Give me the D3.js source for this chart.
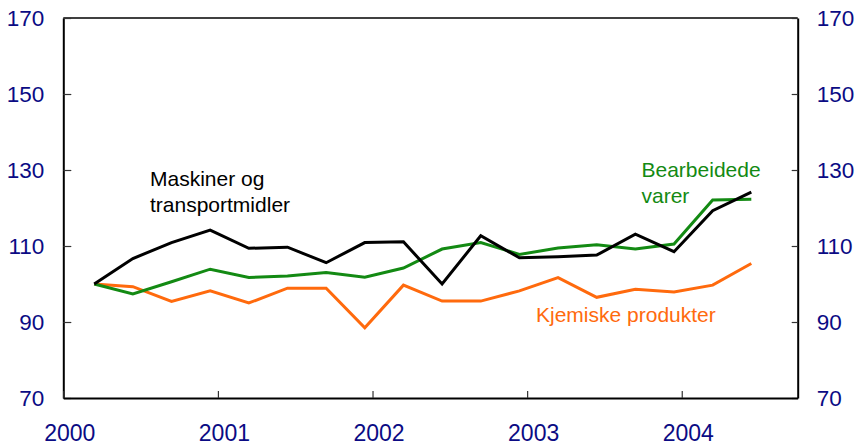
<!DOCTYPE html>
<html>
<head>
<meta charset="utf-8">
<script src="https://cdn.jsdelivr.net/npm/d3@7"></script>
<style>
  body { margin: 0; background: #fff; }
  svg { font-family: Arial, "Liberation Sans", sans-serif; }
</style>
</head>
<body>
<svg id="chart" width="860" height="445"></svg>
<script>
// quarterly index, first point = 100
var quarters = [2000.2, 2000.45, 2000.7, 2000.95, 2001.2, 2001.45, 2001.7, 2001.95,
                2002.2, 2002.45, 2002.7, 2002.95, 2003.2, 2003.45, 2003.7, 2003.95,
                2004.2, 2004.45];
var maskiner = [100, 106.7, 110.9, 114.2, 109.4, 109.7, 105.6, 110.9, 111.1, 100.0,
                112.7, 106.9, 107.2, 107.6, 113.1, 108.5, 119.3, 124.2];
var bearbeidede = [100, 97.4, 100.6, 103.9, 101.7, 102.1, 103.0, 101.8, 104.2, 109.2,
                   110.9, 107.8, 109.5, 110.3, 109.2, 110.5, 122.1, 122.3];
var kjemiske = [100, 99.3, 95.4, 98.2, 95.0, 98.9, 98.9, 88.5, 99.7, 95.5,
                95.5, 98.2, 101.7, 96.5, 98.6, 97.9, 99.7, 105.4];
var yearTicks = [2000, 2001, 2002, 2003, 2004];
var valueTicks = [70, 90, 110, 130, 150, 170];

var navy = "#0b0b84";
var svg = d3.select("#chart");

var x = d3.scaleLinear().domain([2000, 2004.75]).range([63.3, 797.7]);
var y = d3.scaleLinear().domain([70, 170]).range([398, 18]);

function styleAxis(g, size) {
  g.select(".domain").attr("stroke", "#000").attr("stroke-width", 2);
  g.selectAll(".tick line").attr("stroke", "#333").attr("stroke-width", 1.2);
  g.selectAll(".tick text").attr("fill", navy).style("font-size", size + "px");
}

// top frame line
svg.append("line")
  .attr("x1", x.range()[0]).attr("x2", x.range()[1])
  .attr("y1", y(170)).attr("y2", y(170))
  .attr("stroke", "#000").attr("stroke-width", 1.5);

svg.append("g")
  .attr("transform", "translate(" + x.range()[0] + ",0)")
  .call(d3.axisLeft(y).tickValues(valueTicks).tickSizeInner(-8).tickSizeOuter(0).tickPadding(19))
  .call(styleAxis, 22.5);

svg.append("g")
  .attr("transform", "translate(" + x.range()[1] + ",0)")
  .call(d3.axisRight(y).tickValues(valueTicks).tickSizeInner(-6).tickSizeOuter(0).tickPadding(19))
  .call(styleAxis, 22.5);

var xAxis = svg.append("g")
  .attr("transform", "translate(0," + y(70) + ")")
  .call(d3.axisBottom(x).tickValues(yearTicks).tickFormat(d3.format("d"))
        .tickSizeInner(-7).tickSizeOuter(0).tickPadding(26.5))
  .call(styleAxis, 23);
xAxis.selectAll(".tick text").attr("dx", 6);

var line = d3.line()
  .x(function(d, i) { return x(quarters[i]); })
  .y(function(d) { return y(d); });

var series = [
  { name: "kjemiske", values: kjemiske, color: "#ff6a0d" },
  { name: "bearbeidede", values: bearbeidede, color: "#138a13" },
  { name: "maskiner", values: maskiner, color: "#000" }
];

svg.selectAll("path.series")
  .data(series)
  .enter()
  .append("path")
  .attr("class", "series")
  .attr("d", function(d) { return line(d.values); })
  .attr("fill", "none")
  .attr("stroke", function(d) { return d.color; })
  .attr("stroke-width", 3)
  .attr("stroke-linejoin", "miter");

// series labels
var labels = [
  { lines: ["Maskiner og", "transportmidler"], x: 150, y: 186, color: "#000" },
  { lines: ["Bearbeidede", "varer"], x: 641.5, y: 177, color: "#138a13" },
  { lines: ["Kjemiske produkter"], x: 536, y: 321.5, color: "#ff6a0d" }
];

labels.forEach(function(l) {
  var t = svg.append("text")
    .attr("x", l.x).attr("y", l.y)
    .attr("fill", l.color)
    .style("font-size", "21px");
  l.lines.forEach(function(s, i) {
    t.append("tspan").attr("x", l.x).attr("dy", i ? 26 : 0).text(s);
  });
});
</script>
</body>
</html>
